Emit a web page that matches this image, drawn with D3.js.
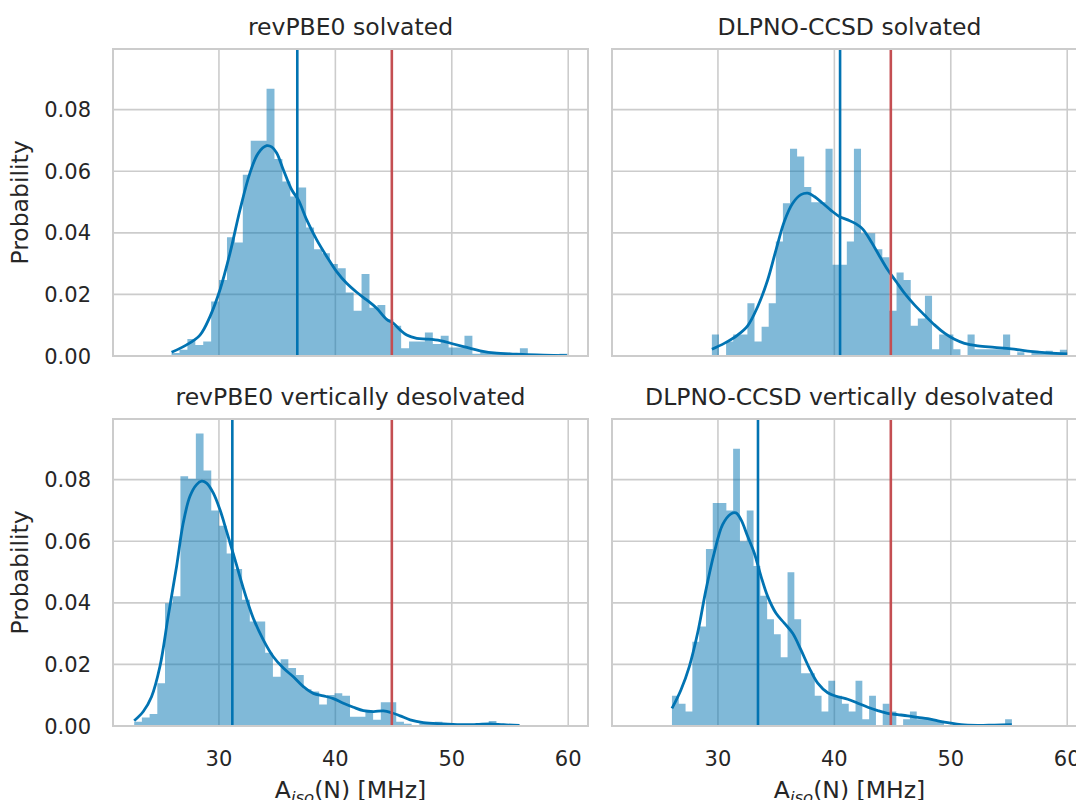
<!DOCTYPE html>
<html>
<head>
<meta charset="utf-8">
<script src="https://cdn.jsdelivr.net/npm/d3@7"></script>
<style>
  body { margin: 0; background: #fff; }
  svg text { font-family: "DejaVu Sans", sans-serif; fill: #262626; }
</style>
</head>
<body>
<div id="chart"></div>
<script>
// panel titles
var titles = ["revPBE0 solvated", "DLPNO-CCSD solvated",
              "revPBE0 vertically desolvated", "DLPNO-CCSD vertically desolvated"];

// histogram: first bin edge, bin width (MHz), bar heights (probability)
var binStart = [25.93, 29.48, 22.72, 26.05];
var binWidth = [0.680, 0.610, 0.662, 0.584];

var hist1 = [0.0010,0.0020,0.0055,0.0036,0.0047,0.0177,0.0247,0.0386,0.0369,0.0589,
             0.0699,0.0699,0.0868,0.0640,0.0567,0.0518,0.0547,0.0417,0.0347,0.0334,
             0.0299,0.0285,0.0206,0.0147,0.0266,0.0157,0.0166,0.0119,0.0098,0.0025,
             0.0047,0.0047,0.0076,0.0039,0.0066,0.0028,0.0028,0.0066,0.0007,0.0014,
             0.0009,0.0009,0.0003,0.0009,0.0025,0.0003,0.0003,0,0,0.0007];
var hist2 = [0.0070,0,0.0047,0.0070,0.0070,0.0171,0.0047,0.0095,0.0171,0.0372,
             0.0496,0.0673,0.0648,0.0549,0.0499,0.0499,0.0673,0.0296,0.0296,0.0372,
             0.0673,0.0399,0.0399,0.0347,0.0321,0.0147,0.0271,0.0247,0.0098,0.0122,
             0.0196,0.0022,0.0070,0.0070,0.0022,0,0.0070,0.0022,0.0022,0.0022,
             0.0022,0.0070,0,0.0012,0,0.0017,0.0009,0.0017,0.0009,0.0020];
var hist3 = [0.0014,0.0028,0.0039,0.0139,0.0399,0.0421,0.0811,0.0803,0.0950,0.0830,
             0.0700,0.0650,0.0560,0.0510,0.0410,0.0339,0.0339,0.0238,0.0160,0.0217,
             0.0188,0.0166,0.0119,0.0112,0.0070,0.0101,0.0106,0.0098,0.0030,0.0030,
             0.0047,0.0020,0.0077,0.0077,0.0014,0.0007,0.0003,0.0009,0.0007,0.0014,
             0.0007,0.0003,0.0003,0.0002,0.0002,0.0003,0.0016,0.0005,0.0003,0.0003];
var hist4 = [0.0098,0.0072,0.0047,0.0274,0.0323,0.0575,0.0724,0.0724,0.0700,0.0900,
             0.0600,0.0700,0.0520,0.0423,0.0347,0.0298,0.0223,0.0499,0.0347,0.0171,
             0.0171,0.0098,0.0047,0.0147,0.0098,0.0072,0.0047,0.0147,0.0022,0.0098,
             0,0.0072,0.0047,0,0.0022,0.0047,0.0022,0.0022,0.0022,0.0017,
             0,0,0,0,0,0,0,0,0,0.0022];
var hists = [hist1, hist2, hist3, hist4];

// KDE curves: [MHz, probability]
var kde1 = [[25.93,0.0012],[27.22,0.0036],[28.37,0.0068],[29.23,0.0128],[30.09,0.0215],
            [30.95,0.0334],[31.81,0.0475],[32.66,0.0594],[33.38,0.0659],[34.10,0.0683],
            [34.53,0.0679],[34.96,0.0659],[35.53,0.0605],[36.25,0.0540],[36.82,0.0507],
            [37.54,0.0442],[38.40,0.0377],[39.26,0.0323],[40.11,0.0274],[40.97,0.0236],
            [41.83,0.0207],[42.69,0.0182],[43.55,0.0155],[44.41,0.0119],[44.99,0.0106],
            [45.56,0.0085],[46.13,0.0068],[46.99,0.0057],[47.85,0.0055],[49.00,0.0050],
            [50.14,0.0039],[51.29,0.0028],[52.44,0.0017],[53.87,0.0009],[55.01,0.0007],
            [56.45,0.0004],[57.88,0.0003],[59.89,0.0001]];
var kde2 = [[29.48,0.0022],[30.54,0.0041],[31.69,0.0068],[32.55,0.0098],[33.41,0.0160],
            [34.27,0.0247],[34.99,0.0345],[35.70,0.0437],[36.42,0.0496],[37.13,0.0524],
            [37.71,0.0529],[38.28,0.0518],[39.00,0.0496],[39.71,0.0473],[40.43,0.0453],
            [41.15,0.0442],[41.86,0.0429],[42.44,0.0412],[43.15,0.0372],[43.87,0.0325],
            [44.58,0.0280],[45.30,0.0242],[46.02,0.0204],[46.88,0.0166],[47.74,0.0133],
            [48.60,0.0101],[49.46,0.0074],[50.32,0.0054],[51.17,0.0041],[52.32,0.0033],
            [53.75,0.0028],[55.19,0.0023],[56.62,0.0016],[58.34,0.0010],[60.00,0.0007]];
var kde3 = [[22.72,0.0017],[23.50,0.0047],[24.21,0.0095],[24.93,0.0193],[25.64,0.0356],
            [26.36,0.0518],[26.93,0.0659],[27.51,0.0746],[28.08,0.0784],[28.51,0.0795],
            [28.94,0.0789],[29.51,0.0757],[30.09,0.0702],[30.66,0.0632],[31.38,0.0540],
            [32.09,0.0448],[32.95,0.0350],[33.81,0.0280],[34.67,0.0225],[35.53,0.0188],
            [36.39,0.0160],[37.25,0.0128],[38.11,0.0106],[38.97,0.0098],[39.83,0.0089],
            [40.69,0.0074],[41.55,0.0061],[42.41,0.0050],[43.27,0.0047],[44.13,0.0049],
            [44.84,0.0043],[45.56,0.0033],[46.42,0.0020],[47.56,0.0011],[49.28,0.0007],
            [51.00,0.0004],[52.15,0.0005],[53.30,0.0007],[54.44,0.0004],[55.82,0.0002]];
var kde4 = [[26.05,0.0057],[26.82,0.0117],[27.54,0.0193],[28.25,0.0301],[28.97,0.0442],
            [29.68,0.0562],[30.40,0.0654],[31.12,0.0689],[31.55,0.0692],[31.98,0.0670],
            [32.55,0.0616],[33.12,0.0562],[33.70,0.0486],[34.27,0.0421],[34.99,0.0366],
            [35.70,0.0334],[36.42,0.0301],[37.13,0.0247],[37.85,0.0188],[38.57,0.0139],
            [39.43,0.0108],[40.29,0.0095],[41.15,0.0087],[42.01,0.0074],[42.87,0.0061],
            [43.72,0.0050],[44.58,0.0041],[45.44,0.0037],[46.30,0.0033],[47.16,0.0028],
            [48.02,0.0024],[48.88,0.0017],[49.74,0.0011],[50.89,0.0004],[52.32,0.0002],
            [53.75,0.0003],[55.24,0.0004]];
var kdes = [kde1, kde2, kde3, kde4];

// vertical markers: mean (blue) and experiment (red)
var meanLine = [36.73, 40.49, 31.15, 33.44];
var expLine = 44.85;

var xTicks = [30, 40, 50, 60];
var yTicks = [0, 0.02, 0.04, 0.06, 0.08];

var blue = "#0173b2", red = "#c44e52", gridCol = "#cccccc";

var svg = d3.select("#chart").append("svg")
  .attr("width", 1076).attr("height", 800);

var panelW = 475, panelH = 307;
var lefts = [113, 612], tops = [49, 419];

var x = d3.scaleLinear().domain([20.9, 61.7]).range([0, panelW]);
var y = d3.scaleLinear().domain([0, 0.0997]).range([panelH, 0]);

var kdeLine = d3.line()
  .x(function(d) { return x(d[0]); })
  .y(function(d) { return y(d[1]); })
  .curve(d3.curveCatmullRom);

// histogram drawn as one stepped area so neighbouring bars don't leave seams
var histArea = d3.area()
  .x(function(d) { return x(d[0]); })
  .y0(y(0))
  .y1(function(d) { return y(d[1]); })
  .curve(d3.curveStepAfter);

for (var i = 0; i < 4; i++) {
  var col = i % 2, row = Math.floor(i / 2);
  var g = svg.append("g").attr("transform", "translate(" + lefts[col] + "," + tops[row] + ")");

  // grid
  g.append("g").selectAll("line").data(xTicks).enter().append("line")
    .attr("x1", function(d) { return x(d); }).attr("x2", function(d) { return x(d); })
    .attr("y1", 0).attr("y2", panelH)
    .attr("stroke", gridCol).attr("stroke-width", 1.6);
  g.append("g").selectAll("line").data(yTicks).enter().append("line")
    .attr("x1", 0).attr("x2", panelW)
    .attr("y1", function(d) { return y(d); }).attr("y2", function(d) { return y(d); })
    .attr("stroke", gridCol).attr("stroke-width", 1.6);

  // bars
  var bs = binStart[i], bw = binWidth[i], h = hists[i];
  var steps = h.map(function(d, k) { return [bs + k * bw, d]; });
  steps.push([bs + h.length * bw, h[h.length - 1]]);
  g.append("path").datum(steps)
    .attr("d", histArea)
    .attr("fill", blue).attr("fill-opacity", 0.5);

  // kde
  g.append("path").datum(kdes[i])
    .attr("d", kdeLine)
    .attr("fill", "none").attr("stroke", blue).attr("stroke-width", 2.8);

  // vertical lines
  g.append("line").attr("x1", x(meanLine[i])).attr("x2", x(meanLine[i]))
    .attr("y1", 0).attr("y2", panelH).attr("stroke", blue).attr("stroke-width", 2.6);
  g.append("line").attr("x1", x(expLine)).attr("x2", x(expLine))
    .attr("y1", 0).attr("y2", panelH).attr("stroke", red).attr("stroke-width", 2.6);

  // frame
  g.append("rect").attr("width", panelW).attr("height", panelH)
    .attr("fill", "none").attr("stroke", gridCol).attr("stroke-width", 2);

  // title
  g.append("text").attr("x", panelW / 2).attr("y", -14)
    .attr("text-anchor", "middle").attr("font-size", 23.5).text(titles[i]);

  // y ticks on left column
  if (col === 0) {
    g.append("g").selectAll("text").data(yTicks).enter().append("text")
      .attr("x", -22).attr("y", function(d) { return y(d); })
      .attr("dy", "0.36em").attr("text-anchor", "end").attr("font-size", 21)
      .text(d3.format(".2f"));
    g.append("text")
      .attr("transform", "translate(" + (-93) + "," + (panelH / 2) + ") rotate(-90)")
      .attr("dy", "0.36em")
      .attr("text-anchor", "middle").attr("font-size", 23.5).text("Probability");
  }

  // x ticks on bottom row
  if (row === 1) {
    g.append("g").selectAll("text").data(xTicks).enter().append("text")
      .attr("x", function(d) { return x(d); }).attr("y", panelH + 32)
      .attr("dy", "0.36em").attr("text-anchor", "middle").attr("font-size", 21)
      .text(function(d) { return d; });
    var lab = g.append("text").attr("x", panelW / 2).attr("y", panelH + 72)
      .attr("text-anchor", "middle").attr("font-size", 23.5);
    lab.append("tspan").text("A");
    lab.append("tspan").attr("font-style", "italic").attr("font-size", 16.5)
      .attr("dy", 5).text("iso");
    lab.append("tspan").attr("dy", -5).text("(N) [MHz]");
  }
}
</script>
</body>
</html>
